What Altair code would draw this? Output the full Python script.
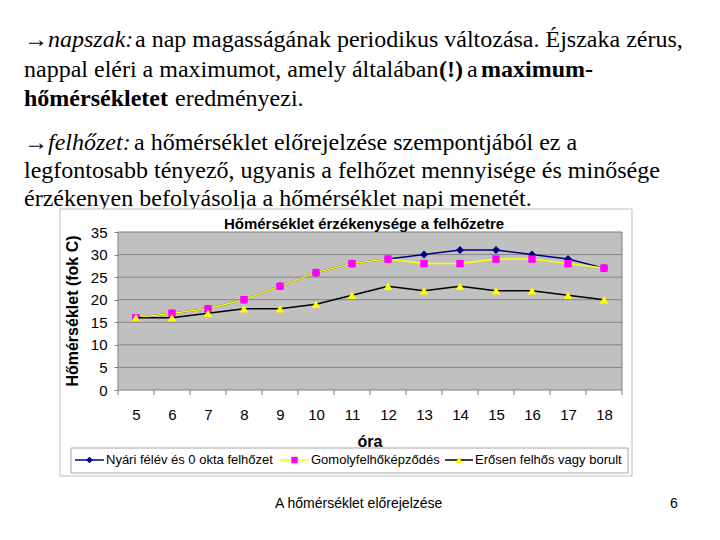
import altair as alt
import pandas as pd

# ---------------- data ----------------
hours = [5, 6, 7, 8, 9, 10, 11, 12, 13, 14, 15, 16, 17, 18]
clear_sky = [16, 17, 18, 20, 23, 26, 28, 29, 30, 31, 31, 30, 29, 27]
cumulus = [16, 17, 18, 20, 23, 26, 28, 29, 28, 28, 29, 29, 28, 27]
overcast = [16, 16, 17, 18, 18, 19, 21, 23, 22, 23, 22, 22, 21, 20]
series_names = ["Nyári félév és 0 okta felhőzet", "Gomolyfelhőképződés", "Erősen felhős vagy borult"]
y_ticks = [0, 5, 10, 15, 20, 25, 30, 35]

chart_title = "Hőmérséklet érzékenysége a felhőzetre"
y_title = "Hőmérséklet (fok C)"
x_title = "óra"
footer_left = "A hőmérséklet előrejelzése"
footer_right = "6"

W, H = 504, 158
PL, PT = 110, 224


def px(x):
    return x - 8 - PL


def py(y):
    return y - 8 - PT


def one():
    return pd.DataFrame({"k": [0]})


def txt(s, x, y, size, font="Liberation Serif", weight="normal", style="normal",
        align="left", baseline="alphabetic", angle=0, color="black"):
    kw = dict(text=s, fontSize=size, font=font, fontWeight=weight, fontStyle=style,
              align=align, baseline=baseline, color=color)
    if angle:
        kw["angle"] = angle
    return alt.Chart(one()).mark_text(**kw).encode(x=alt.value(px(x)), y=alt.value(py(y)))


xs = alt.Scale(domain=[4.5, 18.5], nice=False, zero=False)
ys = alt.Scale(domain=[0, 35], nice=False, zero=True)
x_axis = alt.Axis(values=hours, title=None, grid=False, domain=False, ticks=False, tickSize=0,
                  labelPadding=17, labelFont="Liberation Sans", labelFontSize=15,
                  labelColor="black", labelFlush=False, labelOverlap=False, format="d", zindex=1)
y_axis = alt.Axis(values=y_ticks, title=None, grid=False, domain=False, ticks=True, tickSize=4,
                  tickColor="#808080", labelPadding=7, labelFont="Liberation Sans",
                  labelFontSize=15, labelColor="black", labelFlush=False, format="d", zindex=1)
X = alt.X("hour:Q", scale=xs, axis=x_axis)
Y = alt.Y("temp:Q", scale=ys, axis=y_axis)

# ---------------- slide text ----------------
SERIF = 24
texts = [
    txt("→napszak:", 24, 47, SERIF, style="italic"),
    txt("a nap magasságának periodikus változása. Éjszaka zérus,", 135, 47, SERIF),
    txt("nappal eléri a maximumot, amely általában", 24, 77, SERIF),
    txt("(!)", 439, 77, SERIF, weight="bold"),
    txt("a", 467, 77, SERIF),
    txt("maximum-", 481, 77, SERIF, weight="bold"),
    txt("hőmérsékletet", 24, 106, SERIF, weight="bold"),
    txt("eredményezi.", 175, 106, SERIF),
    txt("→felhőzet:", 24, 150, SERIF, style="italic"),
    txt("a hőmérséklet előrejelzése szempontjából ez a", 134, 150, SERIF),
    txt("legfontosabb tényező, ugyanis a felhőzet mennyisége és minősége", 24, 178, SERIF),
    txt("érzékenyen befolyásolja a hőmérséklet napi menetét.", 24, 206, SERIF),
]

# ---------------- chart frame ----------------
box = alt.Chart(one()).mark_rect(fill="white", stroke="#bdbdbd", strokeWidth=1).encode(
    x=alt.value(px(60)), x2=alt.value(px(632)), y=alt.value(py(209)), y2=alt.value(py(476)))
plot_bg = alt.Chart(one()).mark_rect(fill="#C0C0C0", stroke="#808080", strokeWidth=1).encode(
    x=alt.value(0), x2=alt.value(W), y=alt.value(0), y2=alt.value(H))
grid = alt.Chart(pd.DataFrame({"temp": y_ticks[1:-1]})).mark_rule(color="#858585", strokeWidth=1).encode(
    y=Y, x=alt.value(0), x2=alt.value(W))
edges = [h - 0.5 for h in hours] + [hours[-1] + 0.5]
xticks = alt.Chart(pd.DataFrame({"hour": edges})).mark_rule(color="#808080", strokeWidth=1).encode(
    x=X, y=alt.value(H), y2=alt.value(H + 5))


def series(vals, line_color, shape, fill, size):
    df = pd.DataFrame({"hour": hours, "temp": vals})
    base = alt.Chart(df)
    ln = base.mark_line(color=line_color, strokeWidth=1.5).encode(x=X, y=Y)
    pt = base.mark_point(shape=shape, filled=True, fill=fill, color=fill, size=size, opacity=1).encode(x=X, y=Y)
    return [ln, pt]


s1 = series(clear_sky, "#000080", "diamond", "#000080", 65)
s2 = series(cumulus, "#FFFF00", "square", "#FF00FF", 55)
s3 = series(overcast, "#000000", "triangle-up", "#FFFF00", 75)

# ---------------- titles ----------------
titles = [
    txt(chart_title, 364, 224, 15, font="Liberation Sans", weight="bold", align="center", baseline="middle"),
    txt(y_title, 73, 311, 16, font="Liberation Sans", weight="bold", align="center", baseline="middle", angle=270),
    txt(x_title, 370, 442, 16, font="Liberation Sans", weight="bold", align="center", baseline="middle"),
]

# ---------------- legend ----------------
legend_box = alt.Chart(one()).mark_rect(fill="white", stroke="#a6a6a6", strokeWidth=1).encode(
    x=alt.value(px(71)), x2=alt.value(px(628)), y=alt.value(py(448)), y2=alt.value(py(473)))
LY = 460


def legend_item(x0, x1, line_color, shape, fill, size, name):
    r = alt.Chart(one()).mark_rule(color=line_color, strokeWidth=1.5).encode(
        x=alt.value(px(x0)), x2=alt.value(px(x1)), y=alt.value(py(LY)))
    p = alt.Chart(one()).mark_point(shape=shape, filled=True, fill=fill, color=fill, size=size, opacity=1).encode(
        x=alt.value(px((x0 + x1) / 2)), y=alt.value(py(LY)))
    t = txt(name, x1 + 2, LY, 13, font="Liberation Sans", baseline="middle")
    return [r, p, t]


legend = [legend_box]
legend += legend_item(75, 104, "#000080", "diamond", "#000080", 45, series_names[0])
legend += legend_item(280, 309, "#FFFF00", "square", "#FF00FF", 40, series_names[1])
legend += legend_item(445, 473, "#000000", "triangle-up", "#FFFF00", 50, series_names[2])

footer = [
    txt(footer_left, 275, 508, 14, font="Liberation Sans"),
    txt(footer_right, 670, 508, 14, font="Liberation Sans"),
]

layers = texts + [box, plot_bg, grid, xticks] + s1 + s2 + s3 + titles + legend + footer

chart = alt.layer(*layers).properties(
    width=W, height=H,
    padding={"left": PL, "top": PT, "right": 704 - PL - W, "bottom": 524 - PT - H},
    autosize=alt.AutoSizeParams(type="none"),
    background="white",
).configure_view(stroke=None)

chart.save("out.html", embed_options={"renderer": "svg", "actions": False})
